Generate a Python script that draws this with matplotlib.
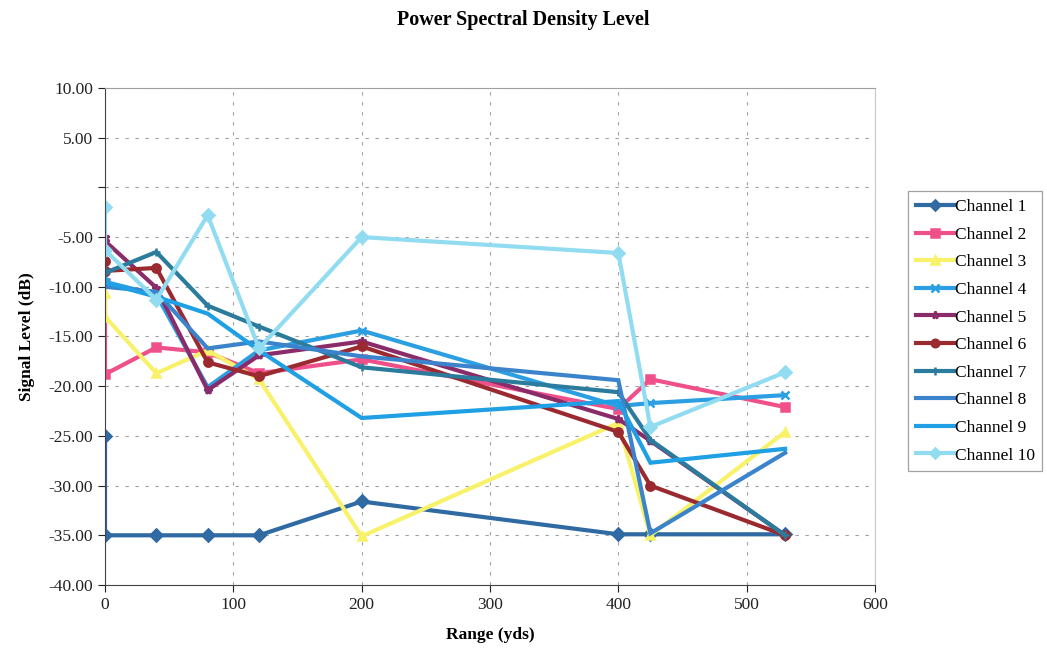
import matplotlib
matplotlib.use("Agg")
import matplotlib.pyplot as plt
from matplotlib.ticker import FixedLocator, FuncFormatter

# ranges in yards (first point repeated: two readings at the start position)
range_yds = [0, 0, 40, 80, 120, 200, 400, 425, 530]

# signal levels per channel (dB)
channel_1 = [-25.0, -35.0, -35.0, -35.0, -35.0, -31.6, -34.9, -34.9, -34.9]
channel_2 = [-9.6, -18.8, -16.1, -16.6, -18.7, -17.3, -22.3, -19.3, -22.1]
channel_3 = [-10.6, -13.0, -18.7, -16.4, -19.3, -35.1, -23.7, -35.0, -24.6]
channel_4 = [-9.0, -9.5, -10.8, -20.1, -16.4, -14.4, -22.0, -21.7, -20.9]
channel_5 = [-5.0, -5.4, -10.1, -20.4, -16.9, -15.5, -23.3, -25.5, -35.0]
channel_6 = [-7.4, -8.4, -8.1, -17.6, -19.0, -16.0, -24.6, -30.0, -35.0]
channel_7 = [-8.3, -8.6, -6.5, -11.9, -14.0, -18.1, -20.6, -25.4, -35.0]
channel_8 = [-9.5, -10.0, -10.5, -16.2, -15.5, -17.0, -19.4, -34.8, -26.7]
channel_9 = [-9.2, -9.6, -11.0, -12.7, -16.4, -23.2, -21.5, -27.7, -26.3]
channel_10 = [-2.0, -6.3, -11.3, -2.8, -16.2, -5.0, -6.6, -24.1, -18.6]

channels = [channel_1, channel_2, channel_3, channel_4, channel_5,
            channel_6, channel_7, channel_8, channel_9, channel_10]
labels = ["Channel %d" % i for i in range(1, 11)]

colors = ['#2f6aa3', '#f0508a', '#f7f26a', '#2b9fe2', '#8a2c6a',
          '#9b2a30', '#2a7b9c', '#3b84cc', '#1f9fe4', '#92dcf2']
markers = ['D', 's', '^', 'x', '*', 'o', '+', None, None, 'D']

plt.rcParams['font.family'] = ['Liberation Serif', 'DejaVu Serif']

fig = plt.figure(figsize=(10.47, 6.59), dpi=100, facecolor='white')
ax = fig.add_axes([0.1003, 0.1123, 0.7354, 0.7542])

for vals, lab, col, mk in zip(channels, labels, colors, markers):
    ax.plot(range_yds, vals, color=col, linewidth=3.0, marker=mk,
            markersize=6, markeredgewidth=1.8, markeredgecolor=col,
            markerfacecolor=col, label=lab, solid_joinstyle='miter')

ax.set_xlim(0, 600)
ax.set_ylim(-40, 10)
ax.xaxis.set_major_locator(FixedLocator(range(0, 601, 100)))
ax.yaxis.set_major_locator(FixedLocator(range(-40, 11, 5)))
ax.yaxis.set_major_formatter(FuncFormatter(lambda v, p: "" if v == 0 else "%.2f" % v))

# dotted grid, light frame on top/right
ax.grid(True, linestyle=(0, (3, 6)), color='#a0a0a0', linewidth=0.8)
ax.set_axisbelow(True)
ax.spines['top'].set_color('#a0a0a0')
ax.spines['right'].set_color('#c8c8c8')
ax.spines['left'].set_color('#444444')
ax.spines['bottom'].set_color('#444444')
ax.tick_params(axis='both', labelsize=12.5, colors='#222222', length=5, width=0.8)

ax.set_xlabel("Range (yds)", fontsize=12.5, fontweight='bold', labelpad=10)
ax.set_ylabel("Signal Level (dB)", fontsize=12.5, fontweight='bold', labelpad=10)
fig.suptitle("Power Spectral Density Level", fontsize=14.5, fontweight='bold', y=0.985)

leg = ax.legend(loc='upper left', bbox_to_anchor=(0.867, 0.71),
                bbox_transform=fig.transFigure, fontsize=12.5, frameon=True,
                fancybox=False, edgecolor='#8a8a8a', handlelength=2.2,
                handletextpad=0.05, labelspacing=0.66, borderpad=0.45,
                borderaxespad=0, markerscale=0.9)
leg.get_frame().set_linewidth(0.9)

fig.savefig("out.png", dpi=100, facecolor='white')
